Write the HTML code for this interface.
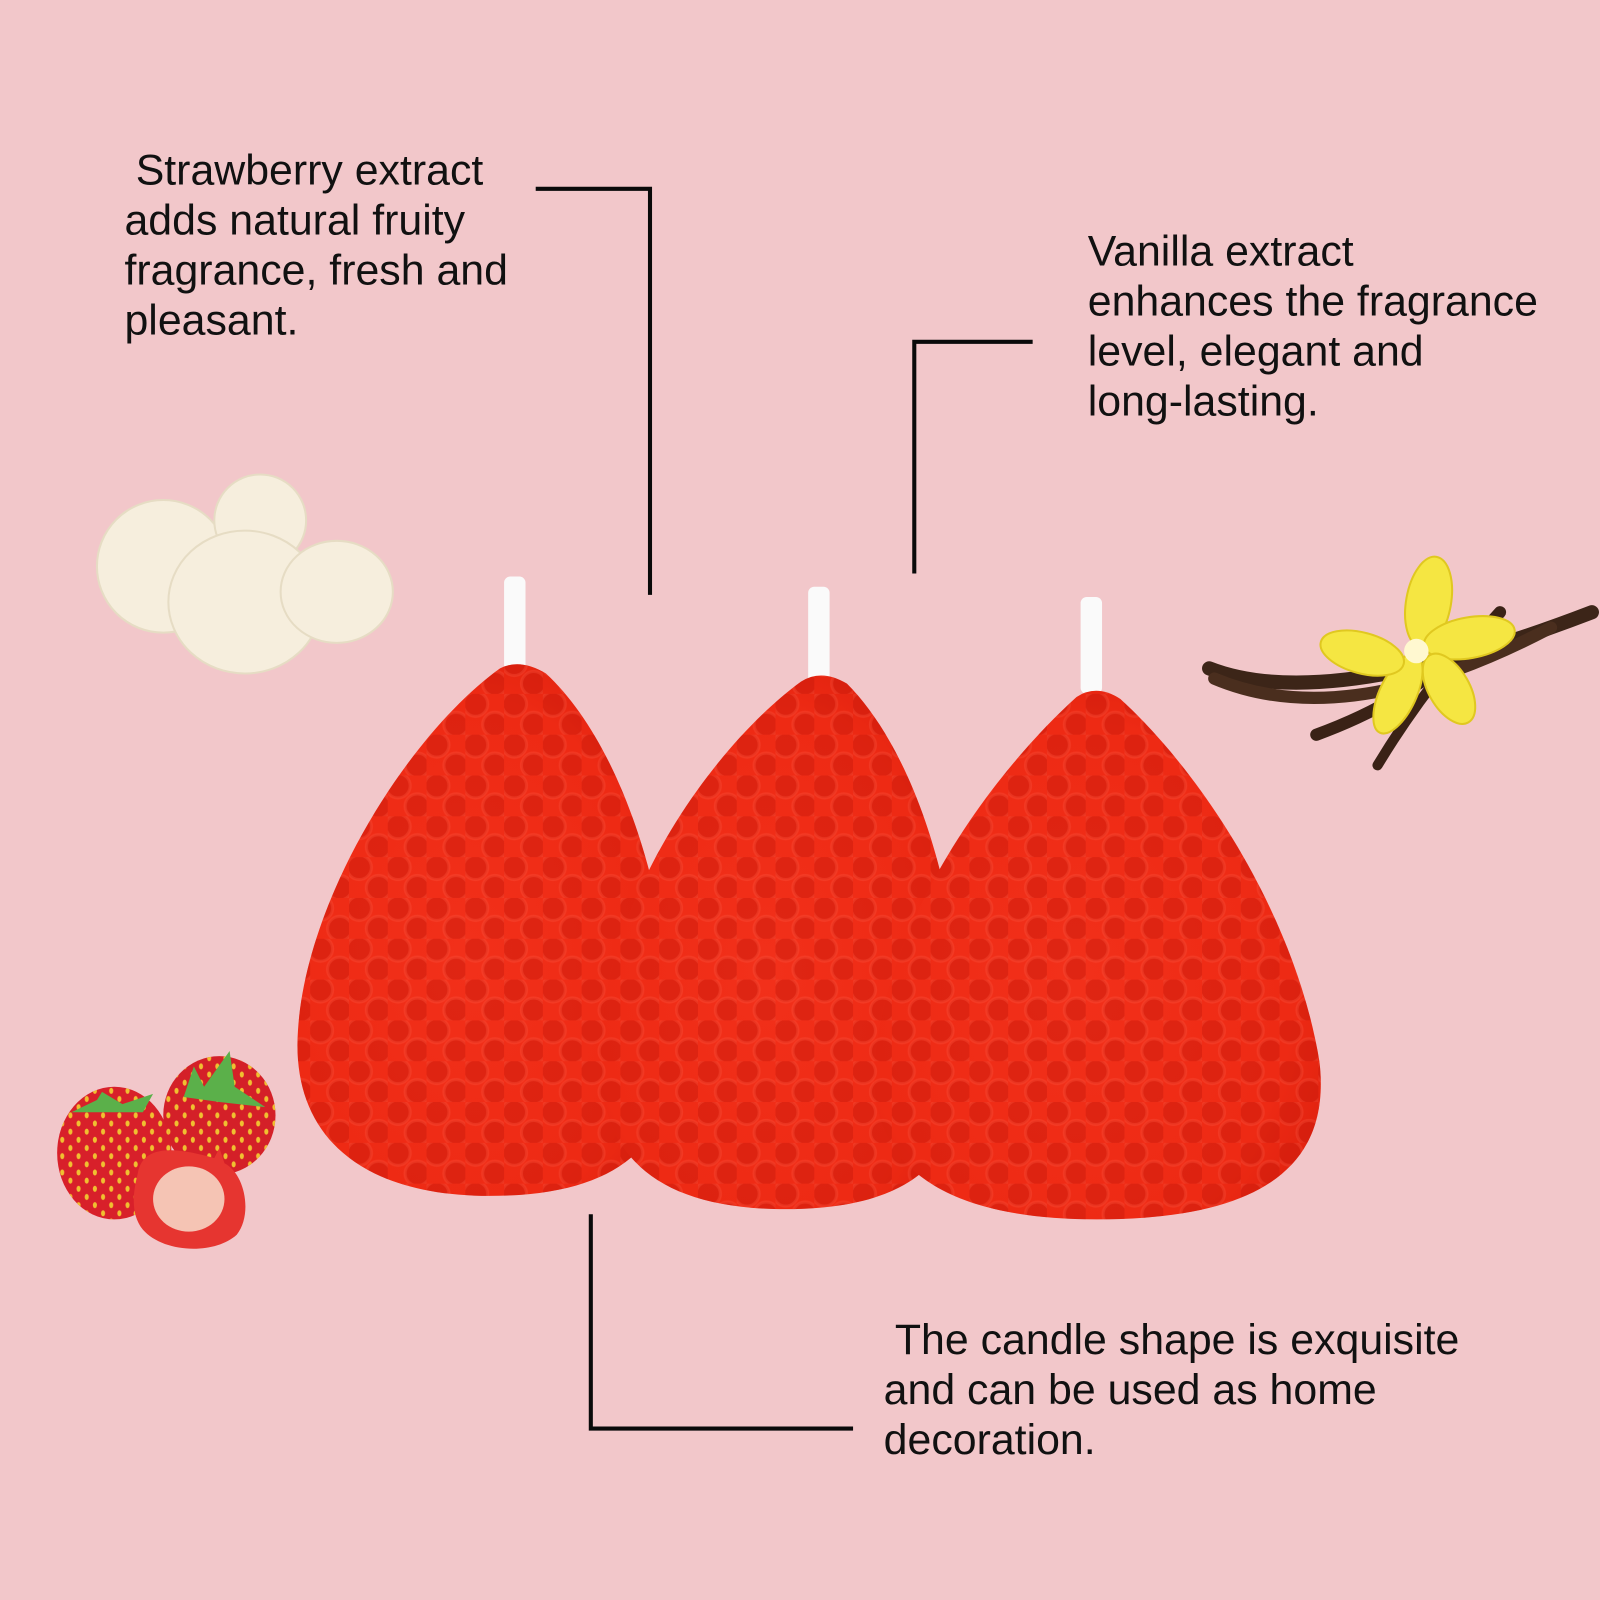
<!DOCTYPE html>
<html><head><meta charset="utf-8">
<style>
html,body{margin:0;padding:0;background:#f2c7ca;}
svg{display:block;}
text{font-family:"Liberation Sans",sans-serif;font-size:42px;fill:#111;font-weight:300;}
</style></head>
<body>
<svg width="1600" height="1600" viewBox="0 0 1568 1568" xmlns="http://www.w3.org/2000/svg">
<defs>
  <radialGradient id="rg" cx="0.45" cy="0.55" r="0.7">
    <stop offset="0" stop-color="#f2301a"/>
    <stop offset="0.7" stop-color="#ee2a14"/>
    <stop offset="1" stop-color="#d91e0c"/>
  </radialGradient>
  <pattern id="dots" width="38" height="40" patternUnits="userSpaceOnUse">
    <ellipse cx="10" cy="10" rx="12" ry="12" fill="#c8180a" opacity="0.45" stroke="#ff6a55" stroke-width="3" stroke-opacity="0.45"/>
    <ellipse cx="29" cy="30" rx="12" ry="12" fill="#c8180a" opacity="0.45" stroke="#ff6a55" stroke-width="3" stroke-opacity="0.45"/>
  </pattern>
  <pattern id="seeds" width="16" height="16" patternUnits="userSpaceOnUse">
    <ellipse cx="5" cy="5" rx="2" ry="3" fill="#f0c030"/>
    <ellipse cx="13" cy="13" rx="2" ry="3" fill="#f0c030"/>
  </pattern>
</defs>
<rect width="1568" height="1568" fill="#f2c7ca"/>

<g stroke="#0a0a0a" stroke-width="4" fill="none">
  <polyline points="525,185 637,185 637,583"/>
  <polyline points="896,562 896,335 1012,335"/>
  <polyline points="579,1190 579,1400 836,1400"/>
</g>

<text x="133" y="181">Strawberry extract</text>
<text x="122" y="230">adds natural fruity</text>
<text x="122" y="279">fragrance, fresh and</text>
<text x="122" y="328">pleasant.</text>

<text x="1066" y="260">Vanilla extract</text>
<text x="1066" y="309">enhances the fragrance</text>
<text x="1066" y="358">level, elegant and</text>
<text x="1066" y="407">long-lasting.</text>

<text x="877" y="1327">The candle shape is exquisite</text>
<text x="866" y="1376">and can be used as home</text>
<text x="866" y="1425">decoration.</text>

<g fill="#f6eedd" stroke="#e6dcc4" stroke-width="2">
  <ellipse cx="160" cy="555" rx="65" ry="65"/>
  <ellipse cx="255" cy="510" rx="45" ry="45"/>
  <ellipse cx="240" cy="590" rx="75" ry="70"/>
  <ellipse cx="330" cy="580" rx="55" ry="50"/>
</g>

<g>
  <ellipse cx="215" cy="1093" rx="55" ry="58" fill="#d42028"/>
  <ellipse cx="215" cy="1093" rx="55" ry="58" fill="url(#seeds)"/>
  <ellipse cx="112" cy="1130" rx="56" ry="65" fill="#d8202a"/>
  <ellipse cx="112" cy="1130" rx="56" ry="65" fill="url(#seeds)"/>
  <path d="M70,1090 L95,1078 L100,1070 L120,1082 L150,1072 L140,1090 Z" fill="#5bb04a"/>
  <path d="M180,1075 L190,1045 L200,1065 L225,1030 L230,1065 L260,1085 L215,1080 Z" fill="#5bb04a"/>
  <path d="M135,1150 C140,1120 175,1125 210,1135 L215,1125 L220,1140 C240,1150 248,1190 232,1210 C210,1230 160,1228 140,1205 C128,1190 130,1170 135,1150 Z" fill="#e63530"/>
  <ellipse cx="185" cy="1175" rx="35" ry="32" fill="#f5c4b4"/>
</g>

<g>
  <path d="M1185,655 Q1300,700 1560,600" stroke="#3c2518" stroke-width="14" fill="none" stroke-linecap="round"/>
  <path d="M1190,665 Q1320,720 1520,615" stroke="#4a2e1e" stroke-width="12" fill="none" stroke-linecap="round"/>
  <path d="M1290,720 Q1400,680 1470,600" stroke="#3a2216" stroke-width="12" fill="none" stroke-linecap="round"/>
  <path d="M1350,750 Q1380,700 1420,650" stroke="#3a2216" stroke-width="10" fill="none" stroke-linecap="round"/>
  <g fill="#f5e642" stroke="#e0c820" stroke-width="2">
    <ellipse cx="1400" cy="590" rx="22" ry="45" transform="rotate(10 1400 590)"/>
    <ellipse cx="1440" cy="625" rx="45" ry="20" transform="rotate(-10 1440 625)"/>
    <ellipse cx="1420" cy="675" rx="20" ry="38" transform="rotate(-30 1420 675)"/>
    <ellipse cx="1370" cy="680" rx="18" ry="42" transform="rotate(25 1370 680)"/>
    <ellipse cx="1335" cy="640" rx="42" ry="20" transform="rotate(15 1335 640)"/>
  </g>
  <circle cx="1388" cy="638" r="12" fill="#fff8d0"/>
</g>

<g>
  <rect x="494" y="565" width="21" height="95" rx="6" fill="#fafafa"/>
  <path d="M490,655 Q510,645 535,660 C600,720 650,850 660,1000 C670,1110 620,1172 480,1172 C350,1172 285,1110 292,1010 C300,880 400,720 490,655 Z" fill="url(#rg)"/>
  <path d="M490,655 Q510,645 535,660 C600,720 650,850 660,1000 C670,1110 620,1172 480,1172 C350,1172 285,1110 292,1010 C300,880 400,720 490,655 Z" fill="url(#dots)"/>
</g>
<g>
  <rect x="792" y="575" width="21" height="95" rx="6" fill="#fafafa"/>
  <path d="M785,668 Q805,655 830,670 C890,730 940,860 945,1030 C950,1130 900,1185 770,1185 C640,1185 585,1130 588,1030 C592,880 700,730 785,668 Z" fill="url(#rg)"/>
  <path d="M785,668 Q805,655 830,670 C890,730 940,860 945,1030 C950,1130 900,1185 770,1185 C640,1185 585,1130 588,1030 C592,880 700,730 785,668 Z" fill="url(#dots)"/>
</g>
<g>
  <rect x="1059" y="585" width="21" height="95" rx="6" fill="#fafafa"/>
  <path d="M1055,683 Q1075,670 1098,685 C1180,760 1270,900 1293,1040 C1305,1140 1240,1195 1075,1195 C920,1195 850,1140 857,1040 C870,900 970,760 1055,683 Z" fill="url(#rg)"/>
  <path d="M1055,683 Q1075,670 1098,685 C1180,760 1270,900 1293,1040 C1305,1140 1240,1195 1075,1195 C920,1195 850,1140 857,1040 C870,900 970,760 1055,683 Z" fill="url(#dots)"/>
</g>
</svg>
</body></html>
